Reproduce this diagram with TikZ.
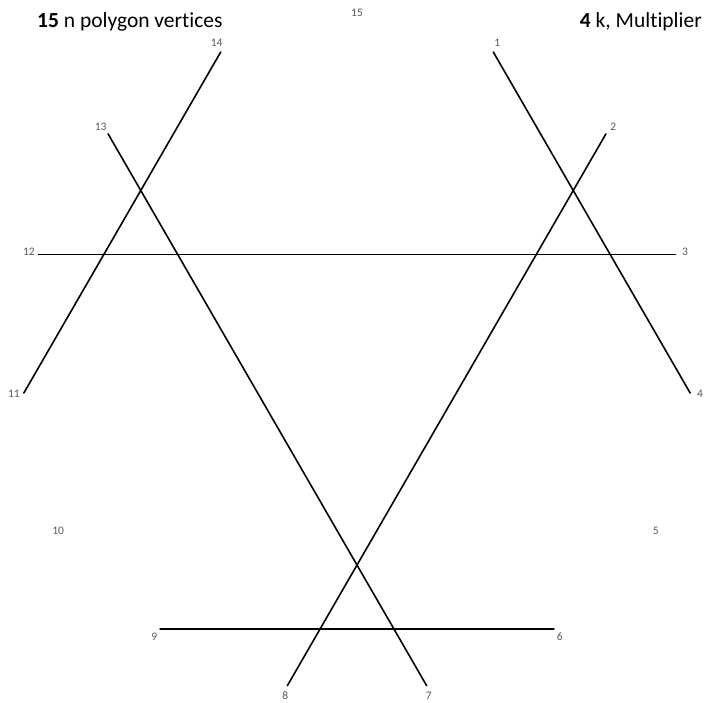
\documentclass[tikz,border=0pt]{standalone}
\usepackage{fontspec}
\setmainfont{Carlito}[Ligatures=NoCommon]
\usetikzlibrary{calc}

\begin{document}
\begin{tikzpicture}[
    x=1pt, y=1pt,
    chord/.style={
        line width=1.6pt,
        line cap=round
    },
    vlabel/.style={
        text=black!65,
        font=\fontsize{11.5}{13}\selectfont,
        inner sep=0pt
    },
    title/.style={
        font=\fontsize{21.5}{25}\selectfont,
        inner sep=0pt
    }
]
    \useasboundingbox (0,0) rectangle (704,702);

    % Polygon vertices
    \coordinate (c) at (357,344);
    \foreach \i in {1,...,15} {
        \coordinate (v\i) at ($(c) + ({90-24*\i}:335)$);
        \node[vlabel] (l\i) at ($(c) + ({90-24*\i}:345)$) {\i};
    }

    % Chords i -> 4i mod 15
    \draw[chord] (v1) -- (v4);
    \draw[chord] (v2) -- (v8);
    \draw[chord] (v3) -- (v12);
    \draw[chord] (v6) -- (v9);
    \draw[chord] (v7) -- (v13);
    \draw[chord] (v11) -- (v14);

    % Titles
    \node[title, anchor=base west] (nlabel) at (37,674) {\textbf{15} n polygon vertices};
    \node[title, anchor=base east] (klabel) at (702,674) {\textbf{4} k, Multiplier};

\end{tikzpicture}
\end{document}
